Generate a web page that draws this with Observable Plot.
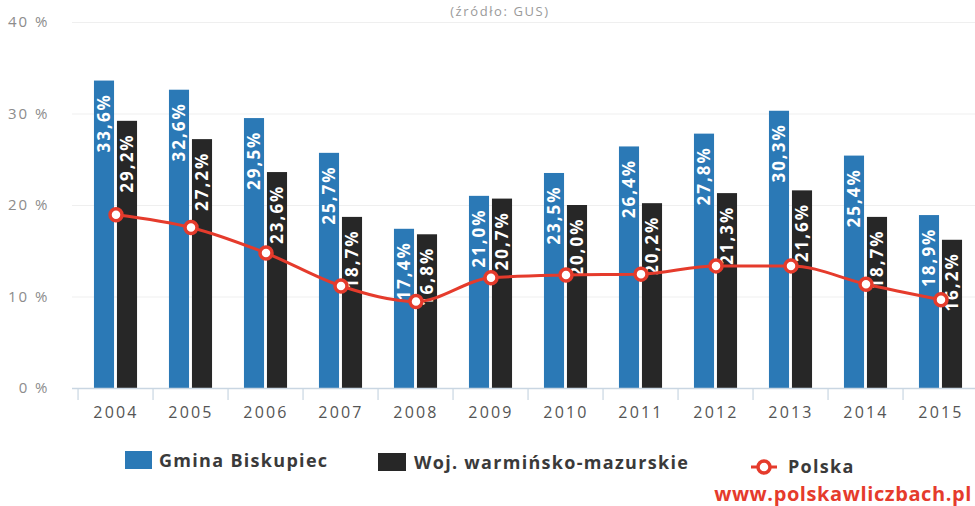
<!DOCTYPE html>
<html>
<head>
<meta charset="utf-8">
<script src="https://cdn.jsdelivr.net/npm/d3@7"></script>
<script src="https://cdn.jsdelivr.net/npm/@observablehq/plot@0.6"></script>
<style>
  html, body { margin: 0; padding: 0; background: #fff; overflow: hidden; }
  #wrap { position: relative; width: 975px; height: 506px; overflow: hidden; font-family: "Open Sans", sans-serif; }
  #chart { position: absolute; left: 0; top: 0; }
  .title { position: absolute; left: 0; width: 1000px; top: 3px; text-align: center; color: #9a9a9a; font-size: 13px; line-height: 16px; letter-spacing: 1.6px; }
  .sw { position: absolute; }
  .lg { position: absolute; font-weight: 700; font-size: 18px; color: #3a3a3a; letter-spacing: 1.3px; line-height: 20px; white-space: nowrap; }
  .url { position: absolute; right: 3px; font-weight: 700; font-size: 20px; color: #e53b2c; letter-spacing: 0.6px; line-height: 22px; white-space: nowrap; }
</style>
</head>
<body>
<div id="wrap">
  <div id="chart"></div>
  <div class="title">(źródło: GUS)</div>
  <div id="legend"></div>
</div>
<script>
// ---- data ----
const years = ["2004","2005","2006","2007","2008","2009","2010","2011","2012","2013","2014","2015"];
const gmina = [33.6, 32.6, 29.5, 25.7, 17.4, 21.0, 23.5, 26.4, 27.8, 30.3, 25.4, 18.9];
const woj   = [29.2, 27.2, 23.6, 18.7, 16.8, 20.7, 20.0, 20.2, 21.3, 21.6, 18.7, 16.2];
const polska = [19.0, 17.6, 14.8, 11.2, 9.5, 12.1, 12.4, 12.5, 13.4, 13.4, 11.4, 9.7];
const yTicks = [0, 10, 20, 30, 40];
const seriesNames = ["Gmina Biskupiec", "Woj. warmińsko-mazurskie", "Polska"];

const BLUE = "#2b79b6", DARK = "#272727", RED = "#e53b2c";
const rows = years.map((year, i) => ({year, gmina: gmina[i], woj: woj[i], polska: polska[i]}));
const fmt = v => v.toFixed(1).replace(".", ",") + "%";

const W = 975, H = 430, ML = 72, MR = -8, MT = 22, MB = 42;
const bw = (W - ML - MR) / years.length;
const barW = 21, gap = 1;

const labelFont = {fontFamily: "Open Sans, sans-serif", fontWeight: "bold", fontSize: 17, fill: "white"};

const svg = Plot.plot({
  width: W, height: H,
  marginLeft: ML, marginRight: MR, marginTop: MT, marginBottom: MB,
  x: {type: "band", domain: years, padding: 0, axis: null},
  y: {domain: [0, 40], axis: null},
  style: {background: "transparent", overflow: "visible"},
  marks: [
    Plot.ruleY(yTicks.slice(1), {stroke: "#efefef", strokeWidth: 1}),
    Plot.text(yTicks, {y: d => d, text: d => d + " %", frameAnchor: "left", textAnchor: "end", dx: -23,
      fill: "#8c8c8c", fontSize: 15, fontFamily: "Open Sans, sans-serif"}),
    Plot.barY(rows, {x: "year", y: "gmina", fill: BLUE, insetLeft: bw / 2 - barW - gap, insetRight: bw / 2 + gap}),
    Plot.barY(rows, {x: "year", y: "woj", fill: DARK, insetLeft: bw / 2 + gap, insetRight: bw / 2 - barW - gap}),
    Plot.ruleY([0], {stroke: "#c9d6e2", strokeWidth: 1.5}),
    Plot.ruleX(years, {x: d => d, y1: () => 0, y2: () => 0, dx: -bw / 2, insetBottom: -12, stroke: "#c9d6e2", strokeWidth: 1.2}),
    Plot.text(years, {x: d => d, y: () => 0, dy: 24, text: d => d, fill: "#555", fontSize: 16,
      fontFamily: "Open Sans, sans-serif"}),
    Plot.text(rows, {x: "year", y: "gmina", text: d => fmt(d.gmina), rotate: -90, textAnchor: "end",
      dy: 12, dx: -(barW / 2 + gap), ...labelFont}),
    Plot.text(rows, {x: "year", y: "woj", text: d => fmt(d.woj), rotate: -90, textAnchor: "end",
      dy: 12, dx: (barW / 2 + gap), ...labelFont}),
    Plot.line(rows, {x: "year", y: "polska", stroke: RED, strokeWidth: 3, curve: "monotone-x"}),
    Plot.dot(rows, {x: "year", y: "polska", r: 6, fill: "white", stroke: RED, strokeWidth: 3.5})
  ]
});
document.getElementById("chart").appendChild(svg);

// letter spacing for the chart texts
d3.select(svg).selectAll("text").each(function () {
  const t = this.textContent;
  if (/^\d{4}$/.test(t)) this.style.letterSpacing = "2.2px";
  else if (/ %$/.test(t)) this.style.letterSpacing = "2px";
  else if (/,\d%$/.test(t)) this.style.letterSpacing = "2px";
});

// ---- legend ----
const lg = document.getElementById("legend");
lg.innerHTML = `
  <div class="sw" style="left:125px;top:451px;width:27px;height:18px;background:${BLUE}"></div>
  <div class="lg" style="left:159px;top:450px">${seriesNames[0]}</div>
  <div class="sw" style="left:378px;top:453px;width:28px;height:18px;background:${DARK}"></div>
  <div class="lg" style="left:414px;top:452px">${seriesNames[1]}</div>
  <svg class="sw" style="left:748px;top:457px" width="32" height="20">
    <line x1="3" x2="29" y1="10" y2="10" stroke="${RED}" stroke-width="3"/>
    <circle cx="16" cy="10" r="6" fill="white" stroke="${RED}" stroke-width="3.5"/>
  </svg>
  <div class="lg" style="left:788px;top:456px">${seriesNames[2]}</div>
  <div class="url" style="top:483px">www.polskawliczbach.pl</div>
`;
</script>
</body>
</html>
